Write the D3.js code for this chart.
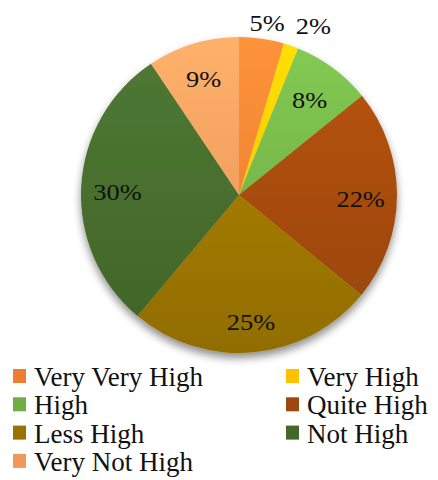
<!DOCTYPE html>
<html>
<head>
<meta charset="utf-8">
<script src="https://cdn.jsdelivr.net/npm/d3@7"></script>
<style>
  body { margin: 0; background: #fff; }
  svg { display: block; }
</style>
</head>
<body>
<script>
const categories = ['Very Very High', 'Very High', 'High', 'Quite High', 'Less High', 'Not High', 'Very Not High'];
const values = [4.6, 1.5, 8.1, 21.7, 25.2, 29.5, 9.4];
const labels = ['5%', '2%', '8%', '22%', '25%', '30%', '9%'];
const colors = ['#ED7D31', '#FFC000', '#70AD47', '#9E480E', '#997300', '#43682B', '#F1975A'];

(() => {
  const totalWidth = 438;
  const totalHeight = 480;
  const cx = 239, cy = 195, radius = 158;
  const font = 'Liberation Serif';

  const svg = d3.select('body').append('svg')
    .attr('width', totalWidth)
    .attr('height', totalHeight)
    .attr('font-family', font);

  const defs = svg.append('defs');

  // soft shadow under the pie
  const shadow = defs.append('filter')
    .attr('id', 'shadow')
    .attr('x', '-20%').attr('y', '-20%')
    .attr('width', '140%').attr('height', '150%');
  shadow.append('feGaussianBlur').attr('in', 'SourceAlpha').attr('stdDeviation', 4);
  shadow.append('feOffset').attr('dx', 0).attr('dy', 5).attr('result', 'blur');
  shadow.append('feComponentTransfer').append('feFuncA').attr('type', 'linear').attr('slope', 0.45);
  const merge = shadow.append('feMerge');
  merge.append('feMergeNode');
  merge.append('feMergeNode').attr('in', 'SourceGraphic');

  // vertical gradient per slice (lighter at top)
  colors.forEach((c, i) => {
    const grad = defs.append('linearGradient')
      .attr('id', 'grad' + i)
      .attr('gradientUnits', 'userSpaceOnUse')
      .attr('x1', 0).attr('y1', -radius)
      .attr('x2', 0).attr('y2', radius);
    grad.append('stop').attr('offset', '0%').attr('stop-color', d3.color(c).brighter(0.45));
    grad.append('stop').attr('offset', '100%').attr('stop-color', d3.color(c).darker(0.15));
  });

  const g = svg.append('g')
    .attr('transform', `translate(${cx}, ${cy})`);

  const pie = d3.pie().sort(null).value(d => d);
  const arcs = pie(values);

  const arc = d3.arc().innerRadius(0).outerRadius(radius);

  g.append('g')
    .attr('filter', 'url(#shadow)')
    .selectAll('path')
    .data(arcs)
    .join('path')
      .attr('d', arc)
      .attr('fill', (d, i) => `url(#grad${i})`);

  // label radius per slice; the two thin slices at the top get theirs outside
  const labelR = [1.1, 1.12, 0.75, 0.77, 0.81, 0.77, 0.77];
  const labelPos = (d, i) => {
    const r = radius * labelR[i];
    const p = d3.arc().innerRadius(r).outerRadius(r).centroid(d);
    if (i === 0) p[0] += 3;
    if (i === 1) { p[0] += 16; p[1] -= 2; }
    if (i === 3) p[1] += 4;
    if (i === 5) p[1] += 3;
    return p;
  };

  g.selectAll('text.lbl')
    .data(arcs)
    .join('text')
      .attr('class', 'lbl')
      .attr('transform', (d, i) => {
        const p = labelPos(d, i);
        return `translate(${p[0]}, ${p[1] + 8}) scale(1.1, 1)`;
      })
      .attr('text-anchor', 'middle')
      .attr('font-size', 24)
      .attr('fill', '#111')
      .text((d, i) => labels[i]);

  // legend, two columns
  const legend = svg.append('g')
    .attr('transform', 'translate(13, 376)');

  const item = legend.selectAll('g')
    .data(categories)
    .join('g')
      .attr('transform', (d, i) => `translate(${(i % 2) * 273}, ${Math.floor(i / 2) * 28.3})`);

  item.append('rect')
    .attr('x', 0).attr('y', -7)
    .attr('width', 13).attr('height', 14)
    .attr('fill', (d, i) => colors[i]);

  item.append('text')
    .attr('x', 21)
    .attr('y', 10)
    .attr('font-size', 27)
    .attr('fill', '#111')
    .text(d => d);
})();
</script>
</body>
</html>
